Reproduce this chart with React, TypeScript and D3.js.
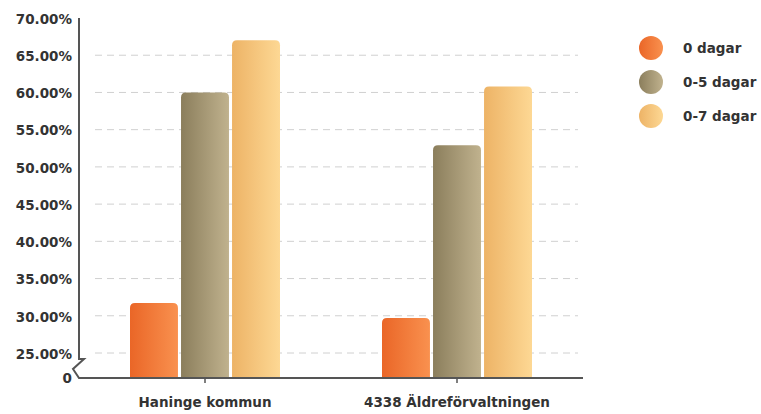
import React from "react";
import * as d3 from "d3";

const categories = ["Haninge kommun", "4338 Äldreförvaltningen"];
const seriesNames = ["0 dagar", "0-5 dagar", "0-7 dagar"];
// values in percent, per series, per category
const dagar0 = [31.7, 29.7];
const dagar05 = [60.0, 52.9];
const dagar07 = [67.0, 60.8];
const yTicks = [25, 30, 35, 40, 45, 50, 55, 60, 65, 70];

const seriesValues = [dagar0, dagar05, dagar07];
const gradients = [
  ["#ea6627", "#f9914f"],
  ["#8b7e5c", "#c0b28e"],
  ["#edb366", "#fdd894"],
];

const W = 761;
const H = 414;
const font = "'DejaVu Sans', sans-serif";

export default function App() {
  const x0 = 79;
  const x1 = 583;
  const base = 378;

  // broken axis: 0..25 squeezed into the bottom
  const y = d3.scaleLinear().domain([0, 25, 70]).range([base, 353, 18]);
  const xBand = d3.scaleBand<string>().domain(categories).range([x0, x1]).padding(0);
  const inner = d3
    .scaleBand<string>()
    .domain(seriesNames)
    .range([0, 150])
    .paddingInner(0.06)
    .paddingOuter(0);

  const bw = inner.bandwidth();
  const r = 5;

  const barPath = (x: number, top: number, w: number, bottom: number) => {
    const p = d3.path();
    p.moveTo(x, bottom);
    p.lineTo(x, top + r);
    p.quadraticCurveTo(x, top, x + r, top);
    p.lineTo(x + w - r, top);
    p.quadraticCurveTo(x + w, top, x + w, top + r);
    p.lineTo(x + w, bottom);
    p.closePath();
    return p.toString();
  };

  return (
    <svg width={W} height={H} style={{ position: "absolute", left: 0, top: 0 }}>
      <defs>
        {gradients.map((g, i) => (
          <linearGradient key={i} id={`grad${i}`} x1="0" x2="1" y1="0" y2="0">
            <stop offset="0%" stopColor={g[0]} />
            <stop offset="100%" stopColor={g[1]} />
          </linearGradient>
        ))}
      </defs>

      {/* gridlines */}
      {yTicks
        .filter((t) => t < 70)
        .map((t) => (
          <line
            key={t}
            x1={95}
            x2={578}
            y1={y(t)}
            y2={y(t)}
            stroke="#d0d0d0"
            strokeWidth={1}
            strokeDasharray="7 5"
          />
        ))}

      {/* bars */}
      {categories.map((c, ci) => {
        const gx = (xBand(c) ?? 0) + (xBand.bandwidth() - 150) / 2;
        return seriesNames.map((s, si) => {
          const v = seriesValues[si][ci];
          const bx = gx + (inner(s) ?? 0);
          return (
            <path
              key={c + s}
              d={barPath(bx, y(v), bw, base)}
              fill={`url(#grad${si})`}
            />
          );
        });
      })}

      {/* axes */}
      <path
        d={`M${x0},${y(70)} V359 L84,359 L73,369 L${x0},${base} H${x1}`}
        fill="none"
        stroke="#555"
        strokeWidth={2}
      />
      {categories.map((c) => {
        const cx = (xBand(c) ?? 0) + xBand.bandwidth() / 2;
        return (
          <g key={c}>
            <line x1={cx} x2={cx} y1={base} y2={base + 5} stroke="#555" strokeWidth={1.5} />
            <text
              x={cx}
              y={402}
              dy="0.35em"
              textAnchor="middle"
              fontFamily={font}
              fontWeight="bold"
              fontSize={13.5}
              fill="#333"
            >
              {c}
            </text>
          </g>
        );
      })}

      {yTicks.map((t) => (
        <text
          key={t}
          x={72}
          y={y(t) + 1}
          dy="0.35em"
          textAnchor="end"
          fontFamily={font}
          fontWeight="bold"
          fontSize={13.5}
          fill="#333"
        >
          {t.toFixed(2) + "%"}
        </text>
      ))}
      <text
        x={72}
        y={base}
        dy="0.35em"
        textAnchor="end"
        fontFamily={font}
        fontWeight="bold"
        fontSize={13.5}
        fill="#333"
      >
        0
      </text>

      {/* legend */}
      {seriesNames.map((s, i) => (
        <g key={s} transform={`translate(651, ${48 + i * 34})`}>
          <circle r={12} fill={`url(#grad${i})`} />
          <text
            x={32}
            dy="0.35em"
            fontFamily={font}
            fontWeight="bold"
            fontSize={13.5}
            fill="#333"
          >
            {s}
          </text>
        </g>
      ))}
    </svg>
  );
}
